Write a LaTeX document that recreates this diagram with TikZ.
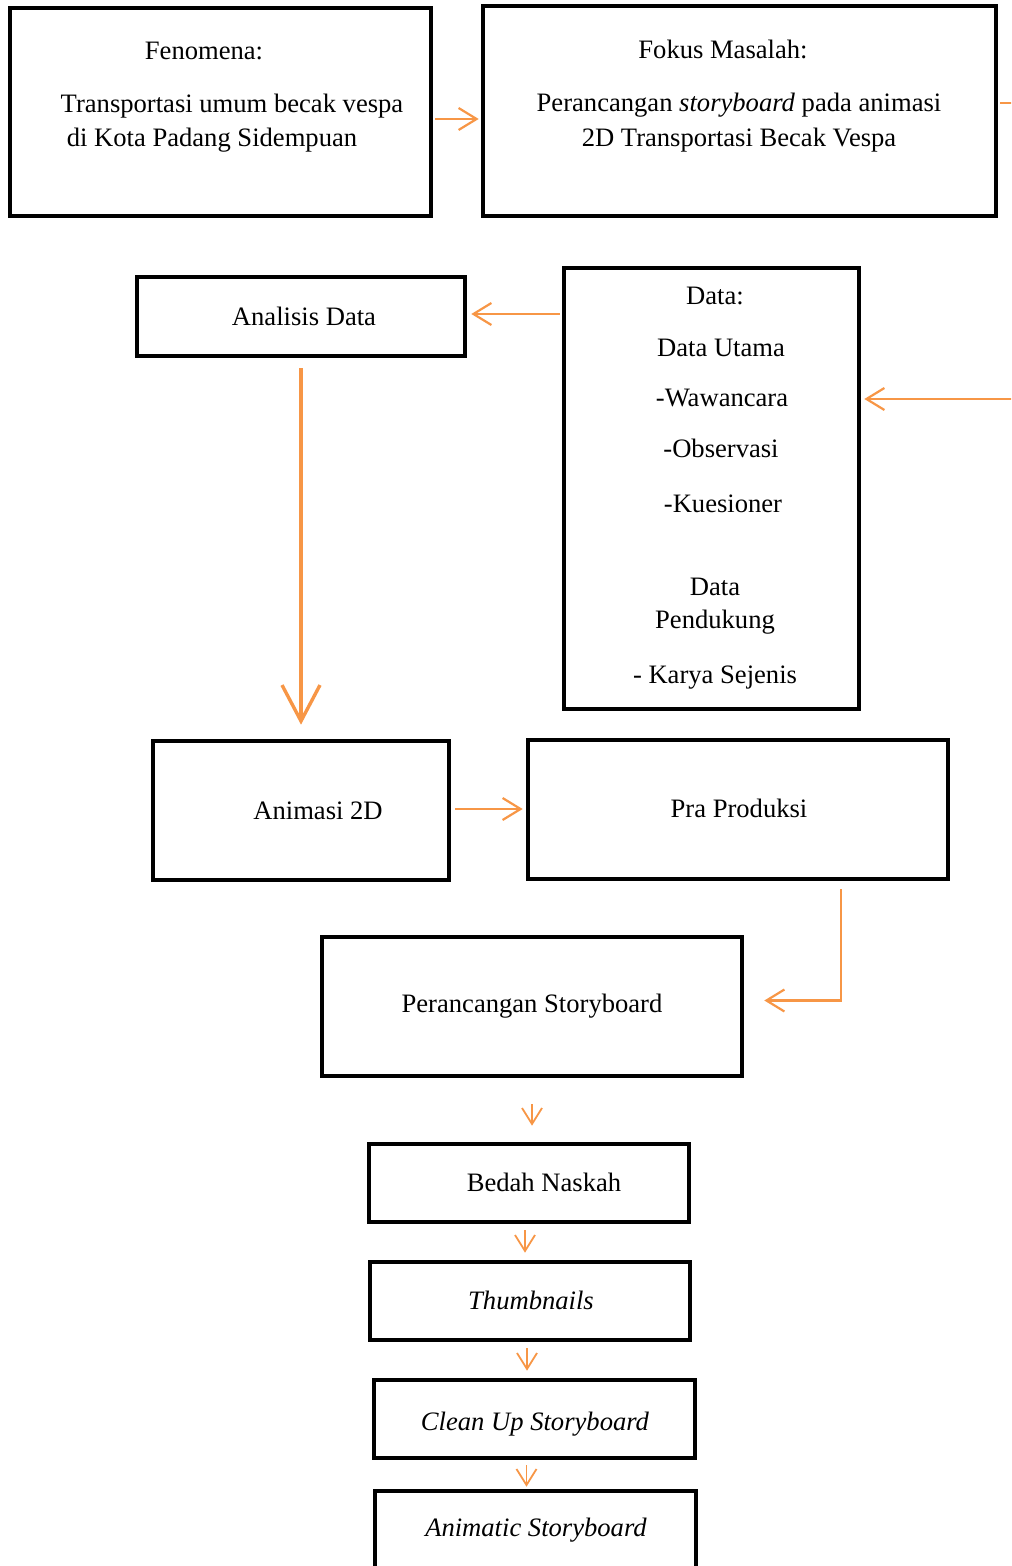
\documentclass[tikz,border=0pt]{standalone}
\usepackage{fontspec}
\setmainfont{Liberation Serif}
\usetikzlibrary{arrows.meta,fit}
\definecolor{oren}{HTML}{F79646}

\begin{document}
\begin{tikzpicture}[x=0.5pt,y=-0.5pt,
	box/.style={draw,line width=2.3pt,inner sep=0pt},
	txt/.style={inner sep=0pt,font=\fontsize{13.3}{16.5}\selectfont,align=center},
	flow/.style={draw=oren,line width=1.1pt,-{Straight Barb[length=9pt,width=11pt]}},
	small/.style={draw=oren,line width=0.9pt,-{Straight Barb[length=8pt,width=10pt]}},
	big/.style={draw=oren,line width=1.7pt,-{Straight Barb[length=18pt,width=19pt]}}]
	\clip (0,0) rectangle (1011,1566);
	% kotak
	\node[box,fit={(10,8) (431,216)}] (fen) {};
	\node[box,fit={(483,6) (996,216)}] (fok) {};
	\node[box,fit={(564,268) (859,709)}] (data) {};
	\node[box,fit={(137,277) (465,356)}] (ana) {};
	\node[box,fit={(153,741) (449,880)}] (anim) {};
	\node[box,fit={(528,740) (948,879)}] (pra) {};
	\node[box,fit={(322,937) (742,1076)}] (story) {};
	\node[box,fit={(369,1144) (689,1222)}] (bedah) {};
	\node[box,fit={(370,1262) (690,1340)}] (thumb) {};
	\node[box,fit={(374,1380) (695,1458)}] (clean) {};
	\node[box,fit={(375,1491) (696,1600)}] (anima) {};
	% teks
	\node[txt] (fent) at (204,51) {Fenomena:};
	\node[txt] (fent2) at (232,106) {Transportasi umum becak vespa};
	\node[txt] (fent3) at (212,140) {di Kota Padang Sidempuan};
	\node[txt] (fokt) at (723,49) {Fokus Masalah:};
	\node[txt] (fokt2) at (739,105) {Perancangan \textit{storyboard} pada animasi};
	\node[txt] (fokt3) at (739,140) {2D Transportasi Becak Vespa};
	\node[txt] (datat) at (715,296) {Data:};
	\node[txt] (datat2) at (721,348) {Data Utama};
	\node[txt] (datat3) at (722,398) {-Wawancara};
	\node[txt] (datat4) at (721,448) {-Observasi};
	\node[txt] (datat5) at (723,504) {-Kuesioner};
	\node[txt] (datat6) at (715,606) {Data\\Pendukung};
	\node[txt] (datat7) at (715,678) {- Karya Sejenis};
	\node[txt] (anat) at (304,316) {Analisis Data};
	\node[txt] (animt) at (318,811) {Animasi 2D};
	\node[txt] (prat) at (739,808) {Pra Produksi};
	\node[txt] (storyt) at (532,1006) {Perancangan Storyboard};
	\node[txt] (bedaht) at (544,1182) {Bedah Naskah};
	\node[txt] (thumbt) at (531,1300) {\textit{Thumbnails}};
	\node[txt] (cleant) at (535,1424) {\textit{Clean Up Storyboard}};
	\node[txt] (animat) at (536,1530) {\textit{Animatic Storyboard}};
	% panah
	\coordinate (offF) at (1030,103);
	\coordinate (offD) at (1030,399);
	\coordinate (lvl) at (0,314);
	\coordinate (lvl2) at (0,119);
	\draw[flow,shorten <=1pt,shorten >=1pt] (fen.east |- lvl2) -- (fok.west |- lvl2);
	\draw[draw=oren,line width=1.1pt] (fok.east |- offF) ++(2,0) -- (offF);
	\draw[flow,shorten >=1.5pt] (offD) -- (data.east |- offD);
	\draw[flow,shorten <=1pt,shorten >=2pt] (data.west |- lvl) -- (ana.east |- lvl);
	\draw[big,shorten <=5pt,shorten >=7pt] (ana.south) -- (anim.north);
	\draw[flow,shorten <=2pt,shorten >=1.5pt] ([yshift=0.75pt]anim.east) -- ([yshift=0.75pt]anim.east -| pra.west);
	\draw[flow,shorten <=4pt,shorten >=10pt] ([xshift=51.5pt]pra.south) |- ([yshift=3pt]story.east);
	\draw[small,shorten <=13pt,shorten >=8pt] (story.south) -- (story.south |- bedah.north);
	\draw[small,shorten <=3pt,shorten >=3.5pt] ([xshift=-2pt]bedah.south) -- ([xshift=-2pt]bedah.south |- thumb.north);
	\draw[small,shorten <=3pt,shorten >=3.5pt] ([xshift=-1.5pt]thumb.south) -- ([xshift=-1.5pt]thumb.south |- clean.north);
	\draw[small,shorten <=2.5pt,shorten >=1pt] ([xshift=-4pt]clean.south) -- ([xshift=-4pt]clean.south |- anima.north);
\end{tikzpicture}
\end{document}
